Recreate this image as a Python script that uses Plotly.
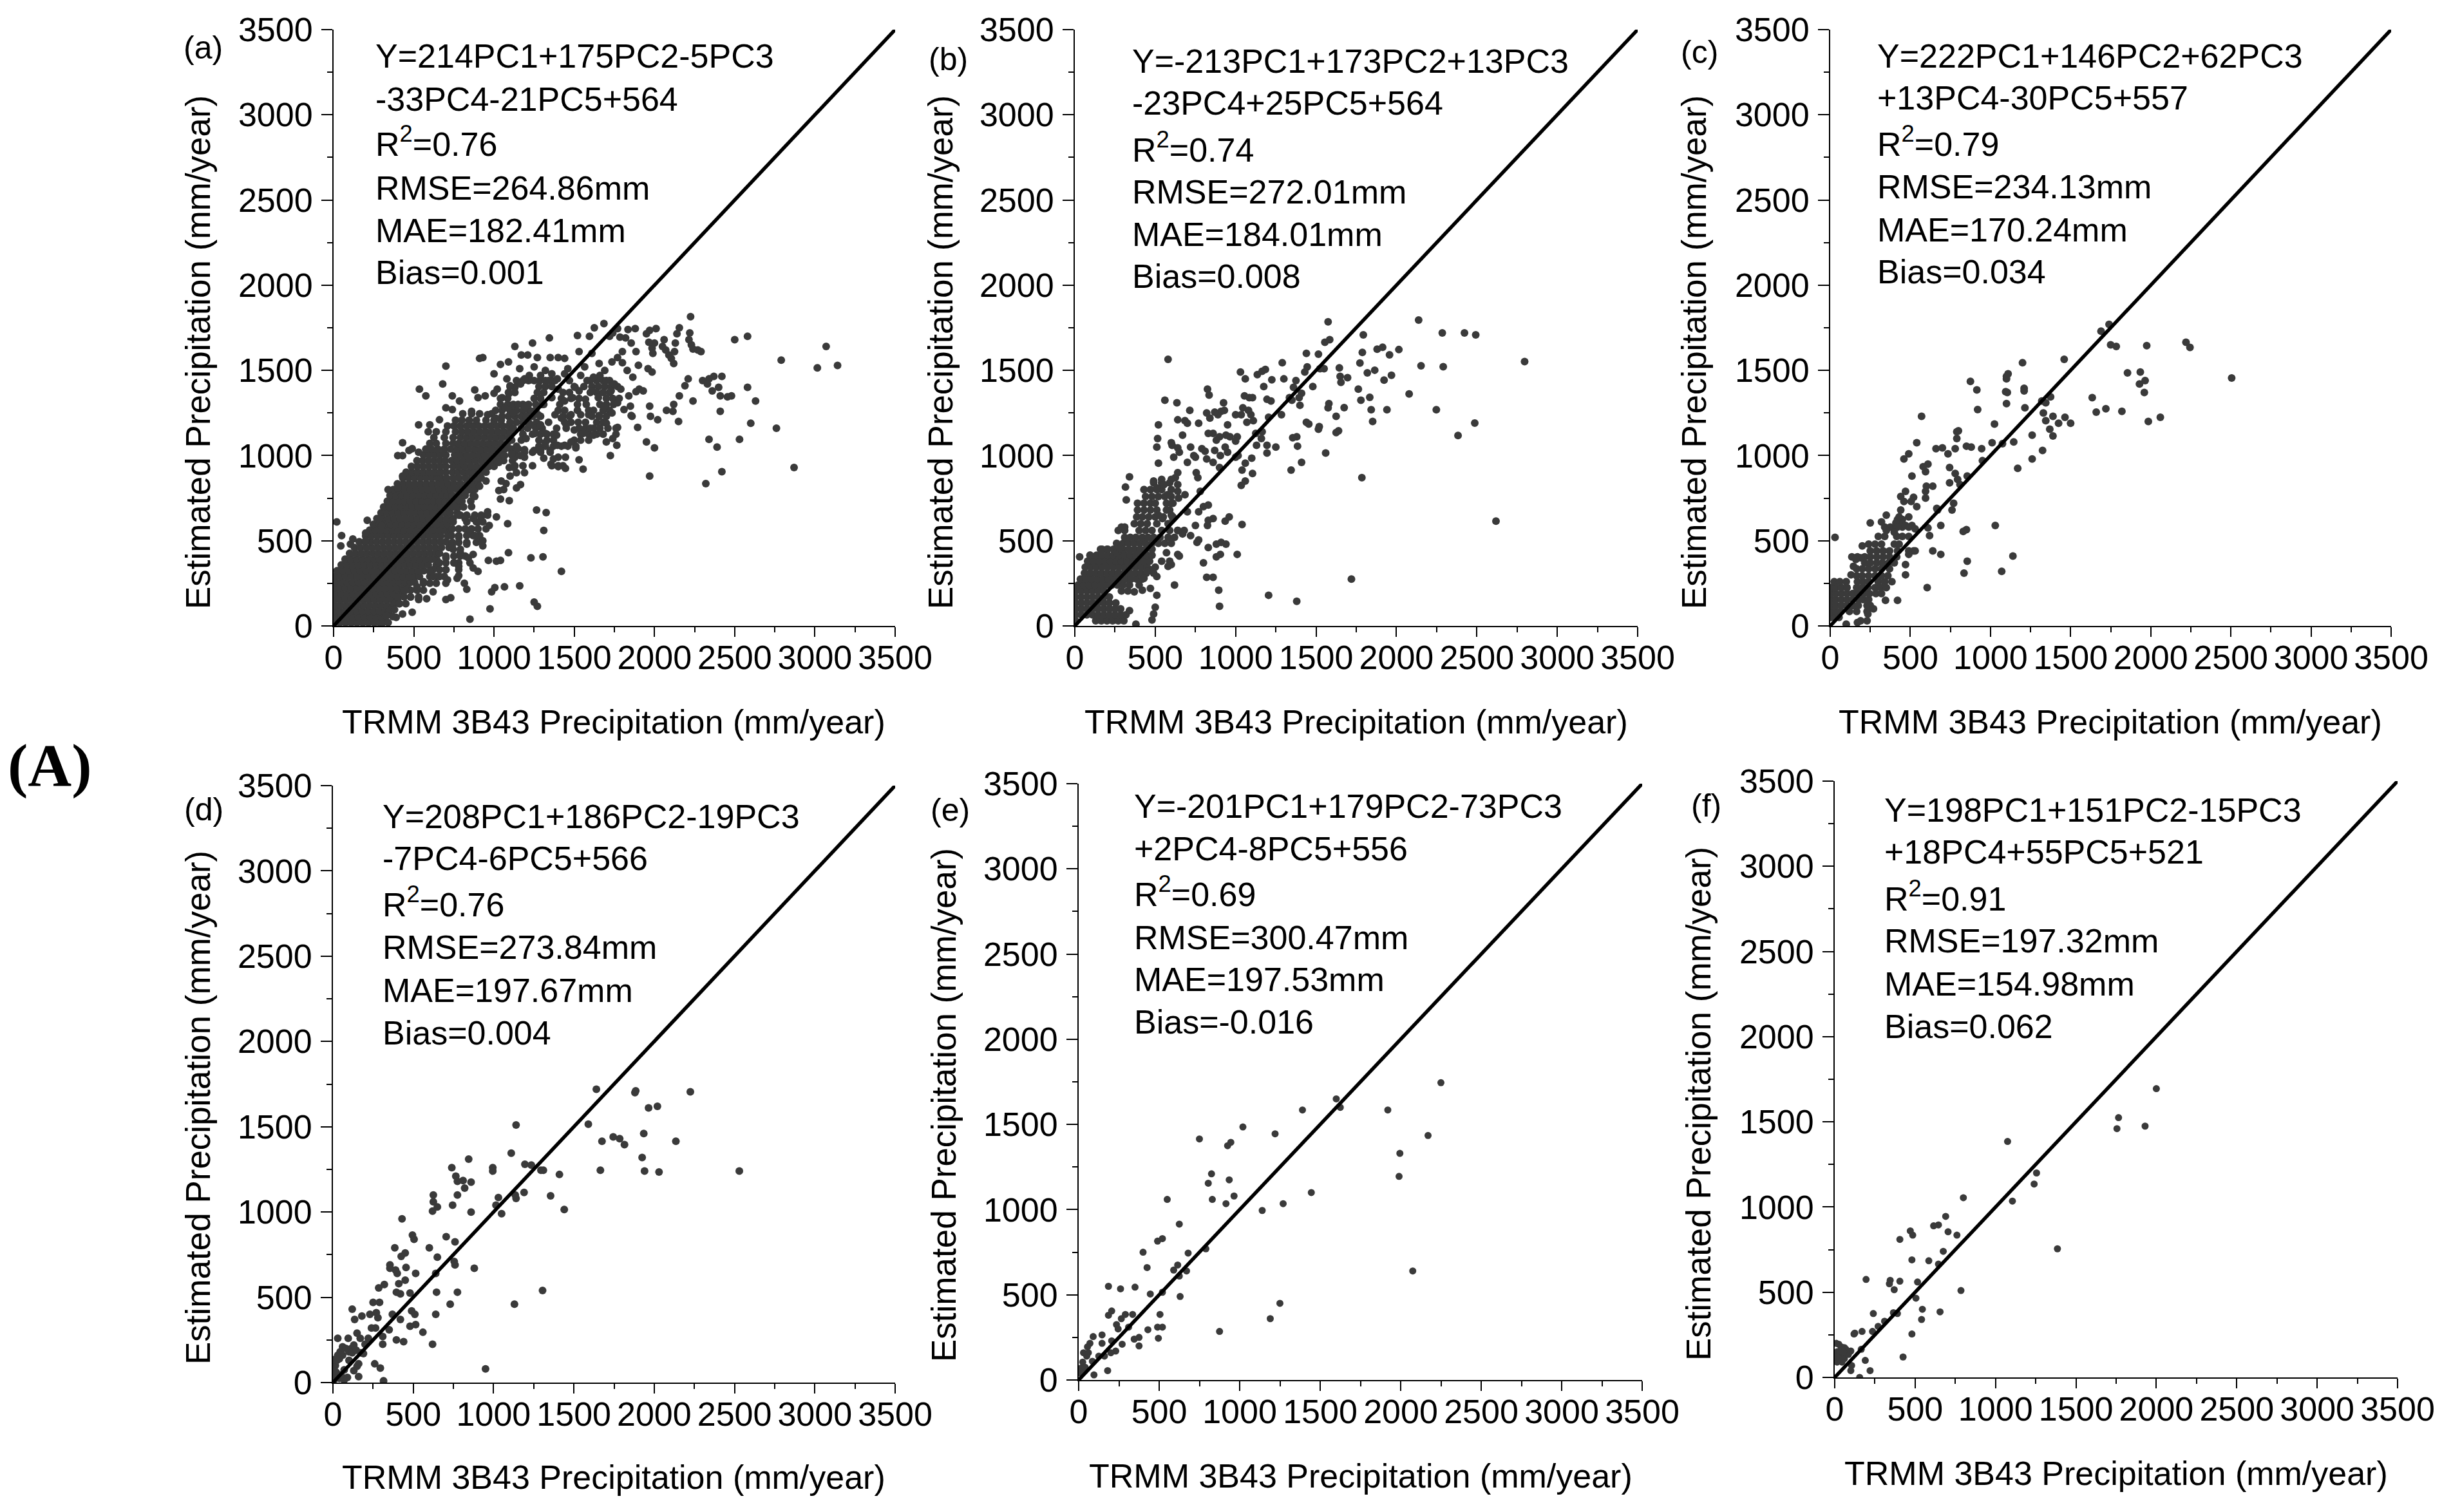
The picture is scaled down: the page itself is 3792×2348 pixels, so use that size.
import plotly.graph_objects as go

W, H = 3792, 2348
axis_max = 3500
major_ticks = [0, 500, 1000, 1500, 2000, 2500, 3000, 3500]
minor_ticks = [250, 750, 1250, 1750, 2250, 2750, 3250]
x_title = "TRMM 3B43 Precipitation (mm/year)"
y_title = "Estimated Precipitation (mm/year)"
reference_line = [0, 3500]

# dense parts: rows of (estimated value, [TRMM values])
cloud_a = [
(18,[4,38,74,110,146,182,218,254,288,305]),
(52,[12,48,84,120,156,192,228,264,300,322]),
(86,[2,36,72,108,144,180,216,252,288,324,345]),
(120,[10,46,82,118,154,190,226,262,298,334,372]),
(154,[2,38,74,110,146,182,218,254,290,326,362,398]),
(188,[12,48,84,120,156,192,228,264,300,336,372,408,432]),
(222,[2,38,74,110,146,182,218,254,290,326,362,398,434,462]),
(256,[12,48,84,120,156,192,228,264,300,336,372,408,444,480,505]),
(290,[2,38,74,110,146,182,218,254,290,326,362,398,434,470,506,535]),
(324,[22,58,94,130,166,202,238,274,310,346,382,418,454,490,526,562,610]),
(358,[48,84,120,156,192,228,264,300,336,372,408,444,480,516,552,590,640]),
(392,[72,108,144,180,216,252,288,324,360,396,432,468,504,540,576,612,642]),
(426,[100,136,172,208,244,280,316,352,388,424,460,496,532,568,604,640,660]),
(460,[130,166,202,238,274,310,346,382,418,454,490,526,562,598,634,672,720]),
(494,[160,196,232,268,304,340,376,412,448,484,520,556,592,628,664,700]),
(528,[200,236,272,308,344,380,416,452,488,524,560,596,632,668,712]),
(562,[225,260,296,332,368,404,440,476,512,548,584,620,656,692,730]),
(596,[248,284,320,356,392,428,464,500,536,572,608,644,680,710]),
(630,[270,306,342,378,414,450,486,522,558,594,630,666,705,745]),
(664,[296,332,368,404,440,476,512,548,584,620,656,692,725,770]),
(698,[312,348,384,420,456,492,528,564,600,636,672,710,745,780,810]),
(732,[335,371,407,443,479,515,551,587,623,659,695,730,765,800,855]),
(766,[352,388,424,460,496,532,568,604,640,676,708,740,780,820,870]),
(800,[372,408,444,480,516,552,588,624,660,694,730,770,805,845,880]),
(834,[398,434,470,506,542,578,614,650,680,715,750,790,830,865,900]),
(868,[432,468,504,540,576,612,648,668,705,745,780,820,860,890,920]),
(902,[452,488,524,560,596,632,665,700,740,775,810,845,880,920,950]),
(936,[485,521,557,593,629,665,700,745,782,818,855,892,930,968,1000]),
(970,[520,555,590,625,660,695,735,770,808,845,882,920,958,995,1030,1060]),
(1004,[560,595,630,665,700,755,792,830,868,905,942,980,1018,1055,1110]),
(1038,[575,610,650,690,730,770,805,842,880,918,955,992,1030,1068,1105]),
(1072,[600,640,700,745,780,818,855,892,930,968,1005,1042,1082]),
(1106,[625,690,745,790,828,865,902,940,978,1015,1052,1090]),
(1140,[640,700,760,800,838,875,912,950,988,1025,1062,1100]),
(1174,[710,750,790,830,868,905,942,980,1018,1055,1092]),
(1208,[760,800,845,890,950,1000,1045]),
(1245,[805,860,910,985]),
]

# looser mesh of dots in panel (a)
mesh_a = [
(1440,[1140,1180,1215,1250,1285,1320,1355,1380,1600,1640,1680,1720]),
(1405,[1100,1280,1320,1360,1500,1560,1610,1650,1690,1730,1770]),
(1370,[1090,1130,1270,1310,1430,1470,1600,1640,1680,1720]),
(1335,[1040,1085,1250,1290,1420,1480,1530,1700,1740,1780]),
(1300,[1040,1085,1120,1180,1215,1260,1300,1410,1520,1575,1660,1700,1745]),
(1265,[1010,1050,1100,1140,1180,1220,1260,1400,1440,1520,1590,1620,1680,1720]),
(1230,[1050,1090,1130,1170,1200,1240,1290,1430,1470,1610,1655,1700]),
(1195,[1100,1140,1180,1215,1265,1340,1440,1480,1525,1570,1640,1680]),
(1160,[1120,1170,1210,1260,1300,1390,1450,1530,1570,1620,1660,1710,1760]),
(1125,[1100,1180,1240,1290,1330,1370,1540,1590,1640,1680,1760]),
(1090,[1110,1170,1280,1330,1370,1500,1540,1590]),
(1055,[1140,1280,1320,1370,1420,1460,1510]),
(1020,[1130,1190,1240,1290,1350]),
(990,[1130,1190,1400,1445]),
(940,[1130,1180,1240,1360,1400,1430]),
(900,[1140,1190]),
(650,[790,830,880,920,960]),
(610,[745,830,900,930]),
(570,[740,780,820,860,900,950]),
(530,[735,780,830,870,910]),
(490,[740,780,830,890]),
(450,[745,790]),
(410,[700,750,790,820]),
(370,[660,700,750,780,850]),
(330,[620,660,700,780]),
(290,[600,640,690]),
(250,[560,600,640,700]),
(210,[440,480,520,560]),
(170,[400,440,480,530]),
(130,[380,410,450]),
(95,[350,380]),
]

points_a = [
(3141,1529),(3070,1640),(3015,1515),(2870,930),(2790,1560),(2760,1160),(2630,1320),(2580,1700),
(2580,1400),(2600,1190),(2500,1680),(2530,1095),(2480,1350),(2455,1345),(2420,905),(2390,1050),
(2340,1095),(2320,835),(2410,1260),(2410,1350),(2360,1380),(2400,1400),(2420,1465),(2370,1465),
(2340,1450),(2300,1440),(2330,1420),(2290,1610),(2270,1620),(2230,1650),(2240,1320),(2240,1625),
(2225,1815),(2220,1720),(2215,1680),(2210,1450),(2190,1410),(2155,1350),(2150,1200),(2155,1750),
(2140,1715),(2130,1660),(2125,1610),(2120,1300),(2115,1260),(2120,1540),(2105,1570),(2090,1590),
(2070,1620),(2050,1640),(2060,1680),(2075,1265),(2020,1210),(2010,1745),(2000,1660),(1985,1630),
(1970,1735),(1965,1665),(1950,1715),(1990,1600),(1960,1510),(1985,1490),(1975,1230),(1970,1290),
(2000,1045),(1950,1080),(1970,880),(1895,1165),(1880,1745),(1855,1235),(1850,1290),(1885,1610),
(1855,1660),(1835,1740),(1820,1690),(1800,1610),(1785,1695),(1770,1745),(1740,1720),(1685,1775),
(1720,1700),(1625,1750),(1595,1700),(1520,1705),(1530,1610),(1565,1520),(1610,1600),(1655,1540),
(1690,1500),(1735,1550),(1770,1575),(1800,1545),(1830,1500),(1865,1460),(1900,1530),(1905,1390),
(1930,1380),(1885,1375),(1840,1350),(1790,1390),(1750,1420),(1700,1440),(1660,1470),(1620,1460),
(1580,1440),(1540,1470),(1505,1400),(1470,1440),(1440,1480),(1395,1450),(1360,1480),(1340,1440),
(1320,1500),(1290,1470),(1250,1520),(1220,1470),(1190,1450),(1165,1420),(1130,1400),(1100,1410),
(1080,1450),(1020,1390),(1000,1480),(1090,1550),(1130,1640),(1240,1660),(1345,1690),(1350,1575),
(1400,1575),(1440,1570),(1460,1510),(1270,1575),(1210,1590),(1170,1590),(1160,1510),(1040,1535),
(930,1575),(910,1570),(700,1525),(680,1420),(535,1390),(575,1350),(740,1350),(785,1320),(880,1385),
(900,1340),(945,1350),(1000,1365),(1050,1340),(1095,1365),(1150,1300),(1195,1290),(1235,1260),
(1275,1240),(1310,1300),(1360,1340),(1400,1390),(1440,1320),(1490,1340),(1530,1380),(1570,1330),
(1610,1380),(1650,1340),(1690,1290),(1730,1380),(1770,1310),(1810,1270),(1860,1230),(1735,1250),
(1700,1190),(1655,1235),(1590,1240),(1540,1240),(1480,1240),(1420,1220),(1380,1240),(1450,1180),
(1500,1150),(1600,1160),(1620,1120),(1555,1130),(1700,1080),(1740,1100),(1765,1060),(1770,1165),
(1725,1000),(1555,920),(1530,975),(1510,1045),(1480,1080),(1440,1060),(1395,1060),(1350,1030),
(1320,1075),(1290,1030),(1250,1030),(1355,950),(1400,935),(1445,925),(1370,980),(1310,985),
(1190,1035),(1150,1040),(1110,1010),(1115,970),(1165,1000),(1200,1100),(1255,1130),(1320,1130),
(1390,1120),(1065,1000),(1030,960),(975,960),(1095,930),(1125,930),(1100,880),(1165,830),(1140,810),
(1075,835),(1030,795),(1060,800),(1040,745),(1095,735),(1045,850),(950,850),(910,820),(880,760),
(820,780),(780,740),(860,700),(960,670),(920,640),(870,630),(820,630),(780,650),(740,620),(850,560),
(900,520),(930,500),(970,590),(880,530),(830,480),(780,520),(740,470),(790,430),(840,400),(870,420),
(930,470),(890,610),(1085,600),(1015,640),(1090,430),(1040,385),(1015,380),(965,385),(900,320),
(870,340),(780,350),(750,370),(700,400),(700,330),(780,295),(815,250),(770,280),(710,270),(730,165),
(700,155),(830,215),(975,100),(850,40),(985,200),(1005,225),(1065,230),(1160,235),(1250,140),(1270,115),
(1230,400),(1305,405),(1310,560),(1265,680),(1325,665),(1420,320),(660,290),(620,290),(580,160),
(530,155),(450,210),(490,80),(480,170),(390,50),(430,70),(410,130),(520,230),(560,260),(600,320),
(620,200),(340,20),(370,55),(330,60),(20,610),(50,530),(45,470),(105,480),(120,510),(200,500),
(200,545),(210,620),(285,630),(300,590),(400,810),(340,800),(430,880),(430,1000),(400,1000),
(430,1075),(470,1030),(490,1040),(530,1020),(590,1140),(600,1180),(530,1180),(660,1210),(700,1280),
(740,1270),(860,1260),(960,1240),(1010,1220),(1070,1280),(1120,1250),(1230,1180),(1290,1180),
]

cloud_b = [
(30,[5,130,165,200,235,270,305]),
(65,[5,40,75,110,145,180,215,250,285,318]),
(100,[5,40,75,110,145,180,215,250,285]),
(135,[5,40,75,110,145,180,215,255]),
(170,[5,40,75,110,145,180,215]),
(205,[5,40,75,110,145,180,290,330]),
(240,[20,55,90,125,160,195,230,265,300,340,400]),
(275,[35,70,105,140,175,210,245,280,315,350,385,420]),
(310,[60,95,130,165,200,235,270,305,340,375,410,445,490]),
(345,[65,100,135,170,205,240,275,310,345,380,415,450,500]),
(380,[80,115,150,185,220,255,290,325,360,395,430,465,540,590]),
(415,[95,135,170,205,240,275,310,345,380,415,450,480]),
(450,[160,200,240,300,335,370,405,440,480]),
(485,[260,300,335,370,405,440,480,520,560,600]),
(520,[310,345,380,420,455,490,530,580,620]),
(560,[270,310,400,440,480,540,590,640,680]),
(600,[370,410,450,510,580]),
(640,[385,420,460,500,550,610]),
(680,[390,430,470,510,590]),
(720,[390,430,470,500,570,610]),
(760,[440,480,520,560,600]),
(800,[430,470,510,540,600]),
(840,[490,540,590]),
]

points_b = [
(2797,1552),(2619,615),(2487,1191),(2493,1708),(2423,1720),(2383,1118),(2285,1720),(2291,1521),
(2248,1269),(2138,1795),(2153,1527),(2079,1362),(2015,1622),(1969,1471),(1957,1591),(1941,1269),
(1923,1443),(1914,1636),(1880,1624),(1865,1501),(1852,1200),(1843,1269),(1834,1342),(1819,1485),
(1794,1708),(1788,1605),(1785,870),(1773,1543),(1779,1325),(1763,1390),(1696,1457),(1675,1281),
(1645,1515),(1650,1465),(1655,1430),(1625,1230),(1640,1145),(1625,1135),(1720,275),(1575,1785),
(1585,1680),(1555,1665),(1580,1305),(1575,1280),(1560,1015),(1550,1510),(1515,1595),(1525,1510),
(1520,1170),(1515,1155),(1480,1405),(1440,1600),(1445,1520),(1430,1490),(1455,1185),(1440,1195),
(1410,1365),(1395,1340),(1400,1295),(1410,960),(1385,1055),(1375,1440),(1360,1400),(1350,1325),
(1345,915),(1380,1110),(1355,1105),(1335,1340),(1290,1545),(1300,1450),(1285,1240),(1250,1050),
(1225,1445),(1220,1320),(1205,1225),(1195,1330),(1195,1060),(1195,1015),(1185,1505),(1165,1495),
(1175,1405),(1165,1140),(1160,1100),(1135,1475),(1130,1060),(1125,1130),(1105,1340),(1085,1340),
(1095,1240),(1080,1265),(1055,1350),(1110,1205),(1100,985),(1105,895),(1060,1450),(1070,1195),
(1060,850),(1030,1490),(1045,1280),(1035,1240),(1040,915),(1035,825),(1040,595),(1000,1240),
(1010,1110),(1000,1085),(1015,1000),(1000,990),(1060,955),(965,1110),(950,1180),(940,1120),
(925,1310),(935,1050),(950,1020),(930,1265),(910,1260),(890,1240),(900,1110),(880,1090),(900,930),
(905,1000),(870,1255),(840,1220),(860,1130),(830,1130),(825,1390),(835,1355),(820,1250),(810,1025),
(870,1030),(860,960),(820,980),(790,1040),(750,990),(740,1000),(770,1190),(715,1265),(700,1190),
(685,1205),(640,1210),(635,1310),(560,1325),(580,1565),(605,1060),(640,1045),(650,1020),(670,1120),
(520,1180),(515,1100),(510,1050),(600,1075),(615,990),(640,900),(520,955),(700,960),(720,1050),
(755,900),(765,870),(625,870),(600,860),(540,860),(490,850),(510,810),(555,830),(640,830),(640,790),
(685,770),(585,770),(575,770),(645,750),(600,720),(570,680),(600,650),(610,630),(545,630),(520,650),
(780,790),(800,700),(830,710),(770,670),(700,670),(750,590),(825,590),(860,630),(830,620),(935,615),
(960,640),(1010,420),(940,480),(910,490),(880,480),(880,405),(905,420),(895,210),(900,115),(860,285),
(820,285),(800,370),(830,460),(760,490),(770,505),(620,240),(600,360),(580,350),(640,420),(650,410),
(570,430),(1205,180),(1380,145),(720,530),(670,540),(640,560),(340,875),(315,815),(320,740),
(290,580),(310,580),(510,290),(480,330),(450,320),(430,280),(470,220),(510,180),(420,210),(370,200),
(480,35),(490,70),(500,110),(380,10),(340,90),(30,405),(95,415),(170,450),(205,450),(260,430),(280,455),
]

cloud_c = [
(50,[5,30,55]),
(85,[5,35,65,120,165,230]),
(120,[5,35,70,105,140,175,230,250]),
(155,[5,35,70,105,140,175,205,240]),
(190,[5,35,70,105,140,175,210,245,285,320]),
(225,[5,35,70,105,165,200,235,280,315,350]),
(260,[25,60,100,170,205,240,300,340,385]),
(295,[165,200,240,280,320,360]),
(335,[165,200,240,280,320,370]),
(370,[215,250,290,325,365,400]),
(405,[135,170,215,250,290,330,370,415]),
(440,[250,290,330,370,420,490,530]),
(480,[240,280,320,400,430]),
(525,[300,340,415,450,490]),
(580,[340,375,410,450,490]),
(625,[420,450]),
]

points_c = [
(2505,1455),(2245,1635),(2220,1665),(2060,1225),(1985,1200),(1975,1645),(1965,1440),(1960,1370),
(1930,1420),(1935,1490),(1820,1260),(1855,1485),(1785,1640),(1750,1650),(1740,1770),(1690,1730),
(1720,1275),(1660,1255),(1635,1340),(1500,1190),(1460,1565),(1465,1225),(1425,1190),(1390,1230),
(1390,1115),(1370,1155),(1375,1345),(1345,1310),(1320,1320),(1330,1250),(1345,1205),(1325,1030),
(1260,980),(1260,1120),(1210,1395),(1210,1380),(1215,1280),(1200,1545),(1170,925),(1145,1080),
(1140,410),(1105,1370),(1095,1375),(1100,1305),(1110,1480),(1100,1450),(1100,1465),(1075,1070),
(1070,320),(1030,590),(1025,1185),(1010,1075),(950,970),(945,1040),(920,1270),(915,1385),(875,1435),
(880,1050),(850,1055),(855,380),(850,565),(830,555),(835,310),(855,880),(810,830),(800,1145),(790,1140),
(790,1100),(780,1040),(795,860),(780,895),(745,840),(735,1010),(745,930),(770,720),(760,680),(700,1045),
(660,1040),(690,420),(690,590),(665,690),(670,680),(640,820),(610,950),(600,820),(595,790),(595,750),
(610,575),(620,530),(640,440),(605,225),(595,905),(580,935),(570,1230),(540,1075),(510,880),(490,1010),
(460,980),(470,790),(460,730),(440,760),(520,755),(505,730),(540,700),(490,640),(510,590),(530,570),
(440,680),(430,640),(450,600),(470,590),(520,440),(490,420),(470,360),(470,300),(410,605),(420,580),
(400,550),(350,560),(350,650),(320,610),(250,605),(200,470),(30,520),(190,400),(160,390),
(145,350),(130,300),(420,150),(345,150),(270,100),(235,70),(230,30),(190,30),(170,20),(100,10),
]

points_d = [
(2530,1240),(2225,1705),(2135,1415),(2030,1235),(2020,1620),(1965,1610),(1940,1240),(1925,1320),
(1935,1460),(1880,1700),(1885,1710),(1815,1395),(1785,1430),(1745,1440),(1665,1245),(1675,1415),
(1640,1720),(1590,1515),(1440,1015),(1410,1220),(1355,1095),(1310,1245),(1295,1245),(1305,540),
(1235,1275),(1195,1280),(1190,1115),(1140,1510),(1140,1080),(1135,1100),(1130,460),(1110,1345),
(1030,1085),(1050,990),(1015,1040),(995,1260),(995,1240),(950,80),(860,1175),(860,1000),(845,1310),
(820,1140),(810,1185),(775,1180),(765,1210),(745,1040),(740,1260),(775,1100),(775,530),(880,670),
(760,690),(755,710),(760,825),(705,855),(730,460),(640,400),(640,640),(645,530),(650,735),(650,1030),
(625,1100),(625,1060),(620,1005),(620,225),(600,790),(560,295),(515,640),(510,400),(515,340),(505,840),
(495,865),(490,420),(480,330),(480,525),(455,675),(450,760),(450,600),(440,240),(430,960),(425,740),
(420,370),(420,520),(410,580),(400,640),(395,530),(395,250),(390,660),(385,790),(370,400),(355,690),
(355,670),(350,310),(320,575),(310,225),(310,270),(285,555),(290,470),(280,380),(270,410),(265,320),
(250,470),(240,320),(230,400),(260,110),(295,85),(315,10),(200,225),(180,390),(170,260),(135,370),
(150,290),(120,430),(115,200),(100,180),(95,260),(60,210),(30,260),(45,180),(30,160),(15,100),(20,60),
(130,70),(150,95),(160,110),(160,35),(90,30),(70,15),(40,25),(10,20),(100,130),(175,175),(80,200),(120,175),
(5,40),(10,70),(25,130),(10,135),(40,140),(60,160),(130,220),(220,260),(190,170),(145,190),(50,45),(70,75),
]

points_e = [
(2250,1745),(2170,1435),(2075,640),(1995,1330),(1990,1195),(1920,1585),(1625,1600),(1600,1650),
(1445,1100),(1390,1585),(1270,1035),(1250,450),(1220,1445),(1190,360),(1140,995),(1020,1485),
(965,1080),(945,1395),(935,1175),(925,1375),(915,1035),(875,285),(830,1060),(825,1210),(805,1155),
(790,770),(750,1415),(680,745),(670,640),(630,490),(625,610),(625,915),(615,675),(590,645),(550,1060),
(520,830),(520,310),(520,515),(490,815),(505,385),(490,310),(495,245),(445,505),(425,660),(400,750),
(430,295),(375,250),(375,200),(350,545),(345,240),(335,385),(310,310),(290,385),(270,210),(265,360),
(260,535),(245,300),(235,325),(230,170),(205,230),(205,405),(185,550),(185,380),(180,55),(145,265),
(145,215),(125,140),(95,30),(90,255),(85,110),(70,215),(55,195),(50,140),(30,160),(25,105),(15,70),
(10,40),(30,50),(60,160),(40,75),(160,140),(200,160),
]

points_f = [
(2000,1695),(1930,1475),(1765,1525),(1755,1460),(1385,755),(1255,1200),(1240,1135),(1105,1035),
(1075,1385),(800,1055),(785,510),(760,835),(705,855),(690,945),(675,740),(655,385),(645,665),(645,895),
(615,890),(585,685),(545,400),(540,340),(515,560),(505,465),(485,835),(480,690),(480,255),(470,860),
(425,120),(405,810),(405,565),(390,375),(365,380),(370,515),(345,570),(340,550),(310,330),(270,300),
(240,375),(235,270),(220,40),(195,575),(190,100),(170,270),(165,165),(155,0),(125,260),(105,70),(120,255),
(100,40),(100,155),(80,150),(70,165),(60,175),(50,130),(45,90),(40,180),(35,120),(25,195),(15,90),(10,200),
(15,150),(25,110),(60,110),(85,135),(30,155),(10,120),(55,150),
]

labels = ["(a)", "(b)", "(c)", "(d)", "(e)", "(f)"]
stats = [
    ["Y=214PC1+175PC2-5PC3", "-33PC4-21PC5+564", "R<sup>2</sup>=0.76", "RMSE=264.86mm", "MAE=182.41mm", "Bias=0.001"],
    ["Y=-213PC1+173PC2+13PC3", "-23PC4+25PC5+564", "R<sup>2</sup>=0.74", "RMSE=272.01mm", "MAE=184.01mm", "Bias=0.008"],
    ["Y=222PC1+146PC2+62PC3", "+13PC4-30PC5+557", "R<sup>2</sup>=0.79", "RMSE=234.13mm", "MAE=170.24mm", "Bias=0.034"],
    ["Y=208PC1+186PC2-19PC3", "-7PC4-6PC5+566", "R<sup>2</sup>=0.76", "RMSE=273.84mm", "MAE=197.67mm", "Bias=0.004"],
    ["Y=-201PC1+179PC2-73PC3", "+2PC4-8PC5+556", "R<sup>2</sup>=0.69", "RMSE=300.47mm", "MAE=197.53mm", "Bias=-0.016"],
    ["Y=198PC1+151PC2-15PC3", "+18PC4+55PC5+521", "R<sup>2</sup>=0.91", "RMSE=197.32mm", "MAE=154.98mm", "Bias=0.062"],
]

def expand(rows):
    return [(x, row_y) for row_y, xs in rows for x in xs]

panel_points = [expand(cloud_a) + expand(mesh_a) + points_a, expand(cloud_b) + points_b,
                expand(cloud_c) + points_c, points_d, points_e, points_f]

# panel placement in page pixels: left, right, top, bottom
boxes = [(518, 1390, 46, 972), (1669, 2543, 46, 972), (2842, 3713, 46, 972),
         (517, 1390, 1220, 2147), (1675, 2550, 1217, 2143), (2849, 3723, 1213, 2139)]
stat_left = [581, 1756, 2913, 592, 1759, 2924]
stat_rows = [[87, 154, 220, 292, 358, 423], [95, 160, 229, 298, 364, 429], [87, 152, 220, 290, 357, 422],
             [1268, 1333, 1401, 1471, 1538, 1604], [1252, 1318, 1385, 1456, 1521, 1587], [1258, 1323, 1392, 1461, 1528, 1594]]
label_pos = [(283, 74), (1440, 92), (2608, 81), (284, 1257), (1443, 1258), (2624, 1251)]
x_title_pos = [(953, 1121), (2106, 1121), (3277, 1121), (953, 2294), (2113, 2292), (3286, 2288)]
y_title_pos = [(307, 547), (1460, 547), (2630, 547), (307, 1720), (1465, 1716), (2637, 1714)]
marker_sizes = [12, 12, 12, 12, 11, 11]

FONT = "Liberation Sans"
fig = go.Figure()
ann = []

def note(x, y, text, size=52, anchor="left", angle=0, family=FONT):
    ann.append(dict(x=x / W, y=1 - y / H, xref="paper", yref="paper", text=text, showarrow=False,
                    xanchor=anchor, yanchor="middle", textangle=angle,
                    font=dict(family=family, size=size, color="black")))

layout_axes = {}
for i, (pts, box) in enumerate(zip(panel_points, boxes)):
    suffix = "" if i == 0 else str(i + 1)
    left, right, top, bottom = box
    fig.add_trace(go.Scatter(x=[p[0] for p in pts], y=[p[1] for p in pts], mode="markers",
                             xaxis="x" + suffix, yaxis="y" + suffix, showlegend=False,
                             marker=dict(size=marker_sizes[i], color="#3a3a3a", line=dict(width=0))))
    fig.add_trace(go.Scatter(x=reference_line, y=reference_line, mode="lines",
                             xaxis="x" + suffix, yaxis="y" + suffix, showlegend=False,
                             line=dict(color="black", width=5.5)))
    common = dict(range=[0, axis_max], tickmode="array", tickvals=major_ticks, showgrid=False, zeroline=False,
                  showline=True, linecolor="black", linewidth=2, ticks="outside", tickcolor="black", tickwidth=2,
                  tickfont=dict(family=FONT, size=52, color="black"),
                  minor=dict(tickmode="array", tickvals=minor_ticks, ticks="outside", ticklen=8, tickwidth=2,
                             tickcolor="black", showgrid=False))
    layout_axes["xaxis" + suffix] = dict(common, domain=[left / W, right / W], anchor="y" + suffix, ticklen=15,
                                         ticklabelstandoff=-12)
    layout_axes["yaxis" + suffix] = dict(common, domain=[1 - bottom / H, 1 - top / H], anchor="x" + suffix, ticklen=17,
                                         ticklabelstandoff=3)
    for line, row in zip(stats[i], stat_rows[i]):
        note(stat_left[i], row, line)
    note(label_pos[i][0], label_pos[i][1], labels[i], size=50)
    note(x_title_pos[i][0], x_title_pos[i][1], x_title, size=52, anchor="center")
    note(y_title_pos[i][0], y_title_pos[i][1], y_title, size=53, anchor="center", angle=-90)

note(10, 1188, "<b>(A)</b>", size=94, family="Liberation Serif")

fig.update_layout(width=W, height=H, margin=dict(l=0, r=0, t=0, b=0, autoexpand=False), paper_bgcolor="white",
                  plot_bgcolor="white", annotations=ann, **layout_axes)
fig.write_html("out.html", post_script="document.body.style.margin='0';", config={"displayModeBar": False})
